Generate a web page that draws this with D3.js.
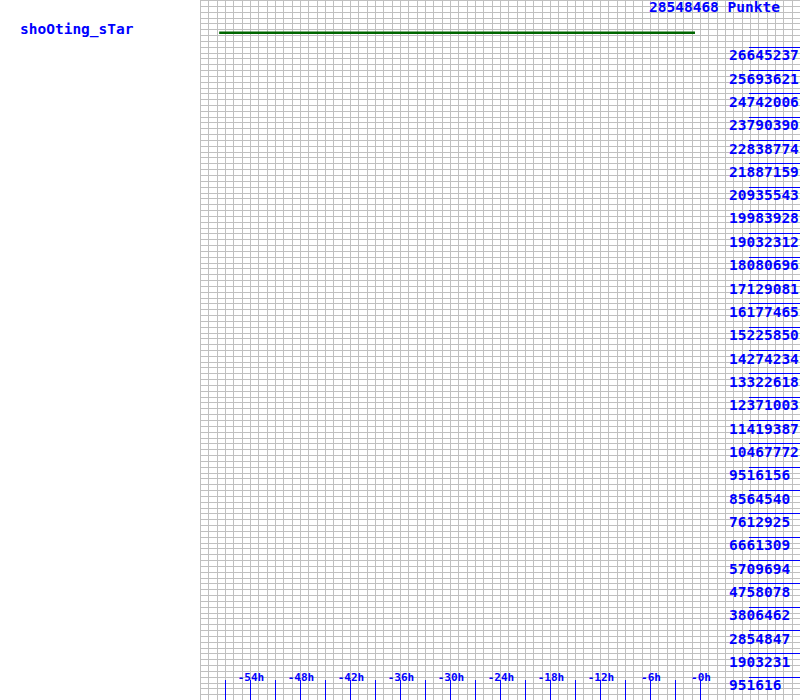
<!DOCTYPE html>
<html>
<head>
<meta charset="utf-8">
<script src="https://cdn.jsdelivr.net/npm/d3@7"></script>
<style>
  html, body { margin: 0; padding: 0; background: #fff; }
  svg { display: block; }
  text { font-family: "DejaVu Sans Mono", "Liberation Mono", monospace; fill: #0000ff; font-weight: bold; }
</style>
</head>
<body>
<script>
// ---- data ----
const playerName = "shoOting_sTar";
const topValue = 28548468;
const topUnit = "Punkte";
const yTickValues = [951616, 1903231, 2854847, 3806462, 4758078, 5709694, 6661309, 7612925,
  8564540, 9516156, 10467772, 11419387, 12371003, 13322618, 14274234, 15225850, 16177465,
  17129081, 18080696, 19032312, 19983928, 20935543, 21887159, 22838774, 23790390, 24742006,
  25693621, 26645237];
const xTickHours = [-57, -54, -51, -48, -45, -42, -39, -36, -33, -30, -27, -24, -21, -18, -15, -12, -9, -6, -3, 0];
const xLabelHours = [-54, -48, -42, -36, -30, -24, -18, -12, -6, 0];
const xLabels = ["-54h", "-48h", "-42h", "-36h", "-30h", "-24h", "-18h", "-12h", "-6h", "-0h"];
const seriesHours = [-57.7, -0.6];
const seriesValues = [27215000, 27215000];

// ---- layout ----
const W = 800, H = 700;
const svg = d3.select("body").append("svg").attr("width", W).attr("height", H);

const x = d3.scaleLinear().domain([-60, 12]).range([200, 800]);
const y = d3.scaleLinear().domain([0, topValue]).range([700, 0]);

// grid
const grid = svg.append("g").attr("shape-rendering", "crispEdges")
  .attr("stroke", "#c0c0c0").attr("stroke-width", 1);
grid.selectAll("line.v").data(d3.range(-60, 13)).join("line")
  .attr("x1", d => Math.round(x(d)) + 0.5).attr("x2", d => Math.round(x(d)) + 0.5)
  .attr("y1", 0).attr("y2", H);
grid.selectAll("line.h").data(d3.range(0, 121).map(i => topValue * i / 120)).join("line")
  .attr("x1", 200).attr("x2", W)
  .attr("y1", d => Math.round(y(d)) + 0.5).attr("y2", d => Math.round(y(d)) + 0.5);

// series line
svg.append("path")
  .datum(seriesHours.map((h, i) => [h, seriesValues[i]]))
  .attr("fill", "none").attr("stroke", "#006600").attr("stroke-width", 2.5)
  .attr("d", d3.line().x(d => x(d[0])).y(d => y(d[1])));

// y ticks + labels
const yt = svg.append("g");
yt.selectAll("line").data(yTickValues).join("line")
  .attr("shape-rendering", "crispEdges")
  .attr("stroke", "#0000ff").attr("stroke-width", 1)
  .attr("x1", 749).attr("x2", W)
  .attr("y1", d => Math.round(y(d)) + 0.5).attr("y2", d => Math.round(y(d)) + 0.5);
yt.selectAll("text").data(yTickValues).join("text")
  .attr("x", 729).attr("y", d => y(d) + 13.5)
  .attr("font-size", "14.5px")
  .text(d => d);

// top label
svg.append("text").attr("x", 649).attr("y", 11.5).attr("font-size", "14.5px")
  .text(topValue + " " + topUnit);

// name
svg.append("text").attr("x", 20).attr("y", 33.5).attr("font-size", "14.5px")
  .text(playerName);

// x ticks
const xt = svg.append("g");
xt.selectAll("line").data(xTickHours).join("line")
  .attr("shape-rendering", "crispEdges")
  .attr("stroke", "#0000ff").attr("stroke-width", 1)
  .attr("x1", d => Math.round(x(d)) + 0.5).attr("x2", d => Math.round(x(d)) + 0.5)
  .attr("y1", 680).attr("y2", H);
xt.selectAll("text").data(xLabelHours).join("text")
  .attr("x", d => x(d) + 1).attr("y", 681)
  .attr("text-anchor", "middle").attr("font-size", "11px")
  .text((d, i) => xLabels[i]);
</script>
</body>
</html>
